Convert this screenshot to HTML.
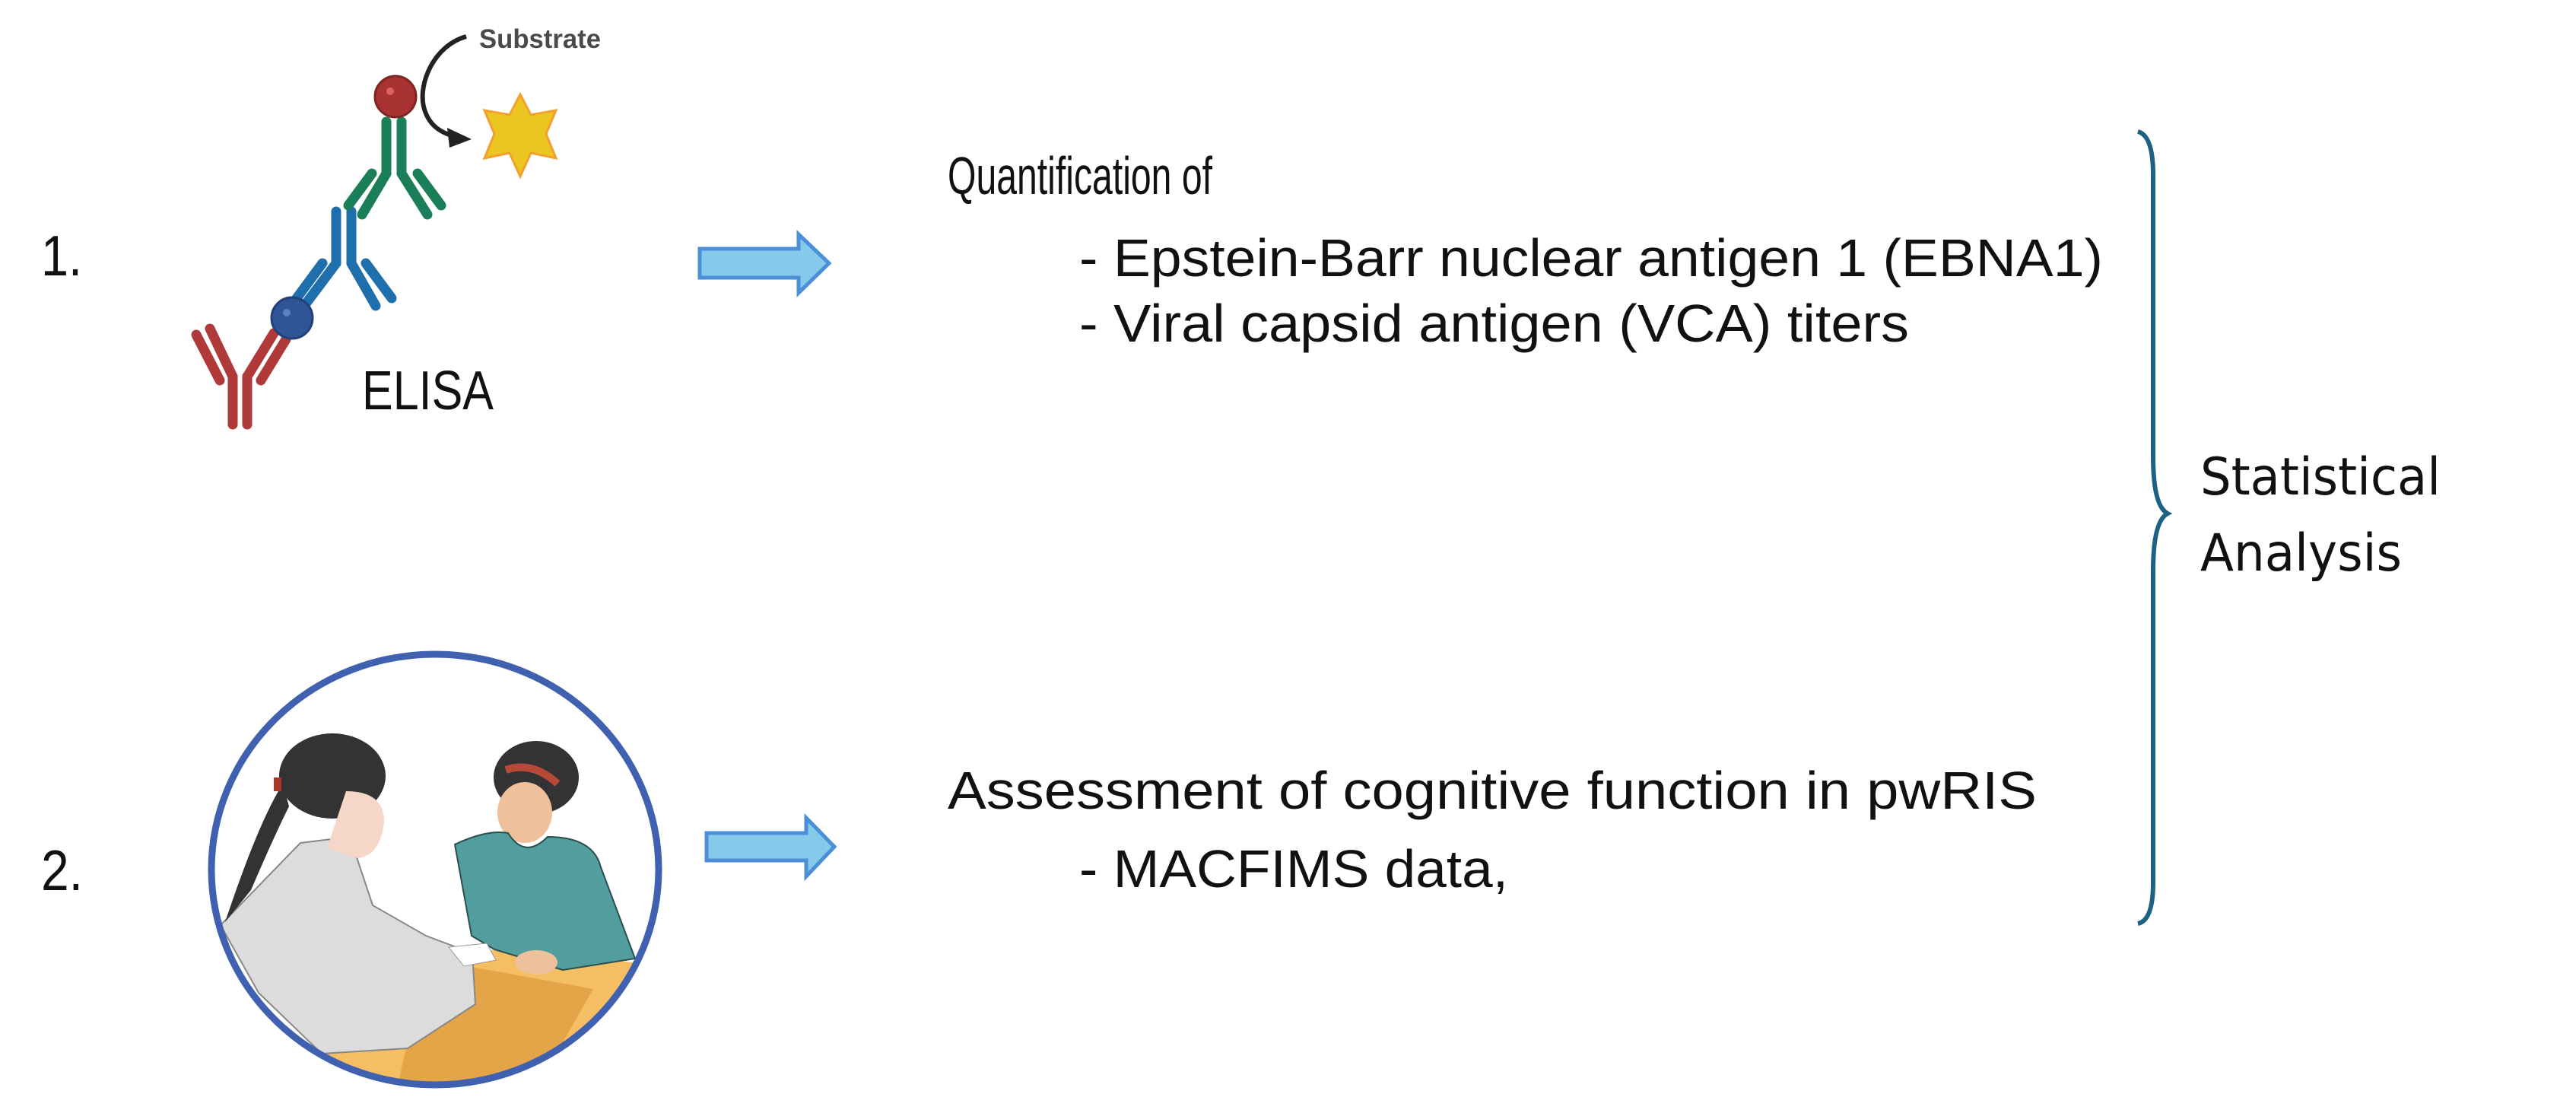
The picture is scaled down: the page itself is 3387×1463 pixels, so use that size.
<!DOCTYPE html>
<html><head><meta charset="utf-8"><style>html,body{margin:0;padding:0;background:#fff;}svg{display:block}</style></head>
<body>
<svg width="3387" height="1463" viewBox="0 0 3387 1463" xmlns="http://www.w3.org/2000/svg">
<defs>
<clipPath id="cc"><ellipse cx="572" cy="1143" rx="292" ry="281"/></clipPath>
</defs>
<rect width="3387" height="1463" fill="#fff"/>
<g font-family="Liberation Sans, sans-serif" fill="#111">
<text x="54" y="362" font-size="75" textLength="54" lengthAdjust="spacingAndGlyphs">1.</text>
<text x="54" y="1170" font-size="75" textLength="55" lengthAdjust="spacingAndGlyphs">2.</text>
<text x="476" y="538" font-size="72" textLength="173" lengthAdjust="spacingAndGlyphs">ELISA</text>
<text x="1246" y="255" font-size="70" textLength="348" lengthAdjust="spacingAndGlyphs">Quantification of</text>
<text x="1419" y="363" font-size="70" textLength="1346" lengthAdjust="spacingAndGlyphs">- Epstein-Barr nuclear antigen 1 (EBNA1)</text>
<text x="1419" y="449" font-size="70" textLength="1091" lengthAdjust="spacingAndGlyphs">- Viral capsid antigen (VCA) titers</text>
<text x="1246" y="1063" font-size="70" textLength="1432" lengthAdjust="spacingAndGlyphs">Assessment of cognitive function in pwRIS</text>
<text x="1419" y="1166" font-size="70" textLength="564" lengthAdjust="spacingAndGlyphs">- MACFIMS data,</text>
<text x="630" y="63" font-size="35" font-weight="bold" fill="#4a4a4a" textLength="160" lengthAdjust="spacingAndGlyphs">Substrate</text>
</g>
<g font-family="DejaVu Sans, sans-serif" fill="#111" font-size="68">
<text x="2893" y="650" textLength="316" lengthAdjust="spacingAndGlyphs">Statistical</text>
<text x="2893" y="750" textLength="265" lengthAdjust="spacingAndGlyphs">Analysis</text>
</g>
<path d="M2811,173 Q2831,178 2831,230 L2831,600 Q2831,665 2850,675 Q2831,685 2831,750 L2831,1160 Q2831,1210 2811,1214" fill="none" stroke="#1d6183" stroke-width="6"/>
<path d="M920,327 L1050,327 L1050,308 L1090,346 L1050,385 L1050,365 L920,365 Z" fill="#85caea" stroke="#4a8fd8" stroke-width="5"/>
<path d="M929,1095 L1060,1095 L1060,1075 L1097,1113 L1060,1152 L1060,1131 L929,1131 Z" fill="#85caea" stroke="#4a8fd8" stroke-width="5"/>
<g stroke-linecap="round" fill="none" stroke-width="13">
<g stroke="#b0393a">
<line x1="306" y1="495" x2="306" y2="558"/><line x1="325" y1="495" x2="325" y2="558"/>
<line x1="306" y1="495" x2="276" y2="432"/><line x1="289" y1="500" x2="258" y2="440"/>
<line x1="325" y1="495" x2="360" y2="438"/><line x1="343" y1="500" x2="376" y2="446"/>
</g>
<g stroke="#1f6fad">
<line x1="442" y1="278" x2="442" y2="346"/><line x1="462" y1="278" x2="462" y2="346"/>
<line x1="442" y1="346" x2="400" y2="402"/><line x1="424" y1="346" x2="390" y2="392"/>
<line x1="462" y1="346" x2="494" y2="402"/><line x1="481" y1="346" x2="515" y2="392"/>
</g>
<g stroke="#1a7f58">
<line x1="508" y1="160" x2="508" y2="228"/><line x1="528" y1="160" x2="528" y2="228"/>
<line x1="508" y1="228" x2="476" y2="282"/><line x1="489" y1="228" x2="458" y2="270"/>
<line x1="528" y1="228" x2="562" y2="282"/><line x1="549" y1="228" x2="580" y2="270"/>
</g>
</g>
<circle cx="384" cy="418" r="27" fill="#2f5597" stroke="#23407a" stroke-width="3"/>
<circle cx="520" cy="127" r="27" fill="#a83232" stroke="#7e2424" stroke-width="3"/>
<circle cx="513" cy="120" r="5" fill="#e26060"/>
<circle cx="377" cy="411" r="5" fill="#5a80c8"/>
<polygon points="684,124 698,151 731,145 718,176 731,208 698,201 684,232 670,201 637,208 650,176 637,145 670,151" fill="#ebc520" stroke="#f2a030" stroke-width="3"/>
<path d="M613,48 C570,60 550,110 557,140 C563,165 580,175 600,180" fill="none" stroke="#222" stroke-width="6"/>
<polygon points="588,168 620,183 591,194" fill="#222"/>
<g clip-path="url(#cc)">
<polygon points="500,1236 832,1265 832,1440 400,1440" fill="#f6be62"/>
<polygon points="560,1260 780,1300 700,1440 520,1440" fill="#e4a448"/>
<ellipse cx="705" cy="1022" rx="56" ry="48" fill="#333"/>
<ellipse cx="690" cy="1068" rx="36" ry="40" fill="#efc09c"/>
<path d="M665,1012 Q700,1000 733,1030" stroke="#b74a36" stroke-width="10" fill="none"/>
<path d="M598,1110 Q640,1090 668,1095 Q690,1130 720,1100 Q780,1100 790,1140 L835,1260 L740,1275 L650,1248 L620,1230 Z" fill="#529d9d" stroke="#2b4f4f" stroke-width="2"/>
<ellipse cx="705" cy="1265" rx="28" ry="16" fill="#efc09c"/>
<path d="M395,1108 L460,1100 L490,1190 L560,1230 L621,1253 L625,1320 L536,1378 L423,1385 L340,1305 L290,1216 Z" fill="#dcdcdc" stroke="#888" stroke-width="2"/>
<ellipse cx="437" cy="1020" rx="70" ry="56" fill="#333"/>
<path d="M372,1030 Q340,1080 296,1212 L330,1170 Q360,1100 380,1060 Z" fill="#333"/>
<path d="M455,1040 Q505,1040 505,1080 Q500,1125 470,1128 L430,1115 Z" fill="#f5d6c8"/>
<rect x="360" y="1022" width="10" height="18" fill="#a8382a"/>
<path d="M590,1245 L640,1240 L652,1262 L610,1270 Z" fill="#fff" stroke="#999" stroke-width="1"/>
</g>
<ellipse cx="572" cy="1143" rx="294" ry="283" fill="none" stroke="#4060b0" stroke-width="9"/>
</svg>
</body></html>
